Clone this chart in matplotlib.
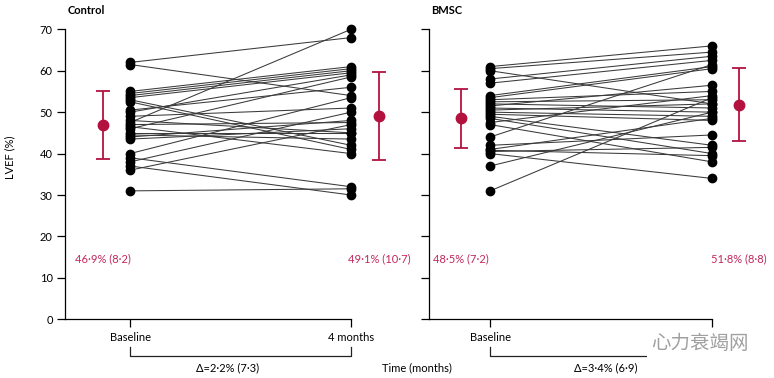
import matplotlib
matplotlib.use("Agg")
import matplotlib.pyplot as plt

# LVEF (%) per patient, baseline -> 4 months
ctrl_base = [62, 61.5, 47.5, 55, 54.5, 54, 53.5, 53, 52.5, 50, 49, 48, 47,
             46, 45, 44.5, 44, 43.5, 40, 39, 38, 37, 36, 31, 46.5, 50.5]
ctrl_4m = [68, 54, 70, 61, 60.5, 60, 59.5, 42, 41, 59, 51, 45, 47.5,
           58.5, 45, 43.5, 48, 46, 53.5, 32, 50, 30, 47, 31.5, 40, 56]

bmsc_base = [61, 60.5, 60, 58, 57, 54, 53.5, 53, 52.5, 52, 51.5, 51, 50.5,
             50, 49.5, 49, 48.5, 47.5, 47, 44, 42, 41, 40.5, 40, 37, 31, 40.8]
bmsc_4m = [66, 64.5, 52, 63.5, 62.5, 61, 60.5, 55, 53, 51, 56.5, 50, 52,
           49, 48, 42, 40, 54, 38, 61.5, 44.5, 48.5, 41.5, 34, 50, 53.5, 39.5]

# mean (SD)
ctrl_mean = [46.9, 49.1]
ctrl_sd = [8.2, 10.7]
bmsc_mean = [48.5, 51.8]
bmsc_sd = [7.2, 8.8]

ctrl_labels = ["46·9% (8·2)", "49·1% (10·7)"]
bmsc_labels = ["48·5% (7·2)", "51·8% (8·8)"]
deltas = ["Δ=2·2% (7·3)", "Δ=3·4% (6·9)"]
titles = ["Control", "BMSC"]
time_labels = ["Baseline", "4 months"]

RED = "#b3123f"
TXT_RED = "#c2285a"

plt.rcParams["font.family"] = ["Lato", "DejaVu Sans"]
plt.rcParams["font.size"] = 7.5

fig = plt.figure(figsize=(7.74, 3.78), dpi=100)
ax1 = fig.add_axes([65.3 / 774, 58.7 / 378, 341 / 774, 290 / 378])
ax2 = fig.add_axes([429 / 774, 58.7 / 378, 338.6 / 774, 290 / 378])

# axes, baseline, 4 months, mean, sd, labels, left edge, mean-marker x, delta x
panels = [
    (ax1, ctrl_base, ctrl_4m, ctrl_mean, ctrl_sd, ctrl_labels, -0.293, [-0.122, 1.127], 0.443),
    (ax2, bmsc_base, bmsc_4m, bmsc_mean, bmsc_sd, bmsc_labels, -0.275, [-0.13, 1.12], 0.52),
]

for i, (ax, base, after, mean, sd, lab, x0, mx, dx) in enumerate(panels):
    for b, a in zip(base, after):
        ax.plot([0, 1], [b, a], color="#3a3a3a", lw=0.75, zorder=2)
    ax.scatter([0] * len(base), base, s=36, color="black", zorder=3, clip_on=False)
    ax.scatter([1] * len(after), after, s=36, color="black", zorder=3, clip_on=False)

    ax.errorbar(mx, mean, yerr=sd, fmt="o", color=RED, ms=7.5, elinewidth=1.3,
                capsize=5, capthick=1.3, clip_on=False, zorder=4)
    for xm, t in zip(mx, lab):
        ax.text(xm, 14.6, t, color=TXT_RED, ha="center", va="center", fontsize=8)

    ax.set_xlim(x0, 1.25)
    ax.set_ylim(0, 70)
    ax.spines["top"].set_visible(False)
    ax.spines["right"].set_visible(False)
    ax.spines["bottom"].set_bounds(x0, 1)
    ax.spines["left"].set_linewidth(0.9)
    ax.spines["bottom"].set_linewidth(0.9)
    ax.set_yticks(range(0, 71, 10))
    ax.set_xticks([0, 1])
    ax.set_xticklabels(time_labels)
    ax.tick_params(axis="both", length=6, width=0.9, pad=3, labelsize=8)
    if i == 1:
        ax.set_yticklabels([])

    # bracket for the change
    ax.plot([0, 0, 1, 1], [-6.7, -8.9, -8.9, -6.7], color="#222222", lw=0.9,
            clip_on=False)
    ax.text(dx, -11.8, deltas[i], ha="center", va="center", fontsize=8)

    fig.text(ax.get_position().x0 + 2 / 774, 1 - 11 / 378, titles[i],
             fontweight="bold", fontsize=8, va="center", ha="left")

ax1.set_ylabel("LVEF (%)", fontsize=8)
ax1.yaxis.set_label_coords(-0.1475, 0.56)

fig.text(417 / 774, 1 - 368 / 378, "Time (months)", ha="center", va="center",
         fontsize=8)

# watermark (covers the right panel's "4 months" label, as in the source)
fig.text(700 / 774, 1 - 343 / 378, "心力衰竭网", ha="center", va="center",
         fontsize=14, color="#a0a0a0",
         family=["Noto Sans CJK SC", "DejaVu Sans"],
         bbox=dict(facecolor="white", edgecolor="none", pad=3))

fig.savefig("out.png", dpi=100)
